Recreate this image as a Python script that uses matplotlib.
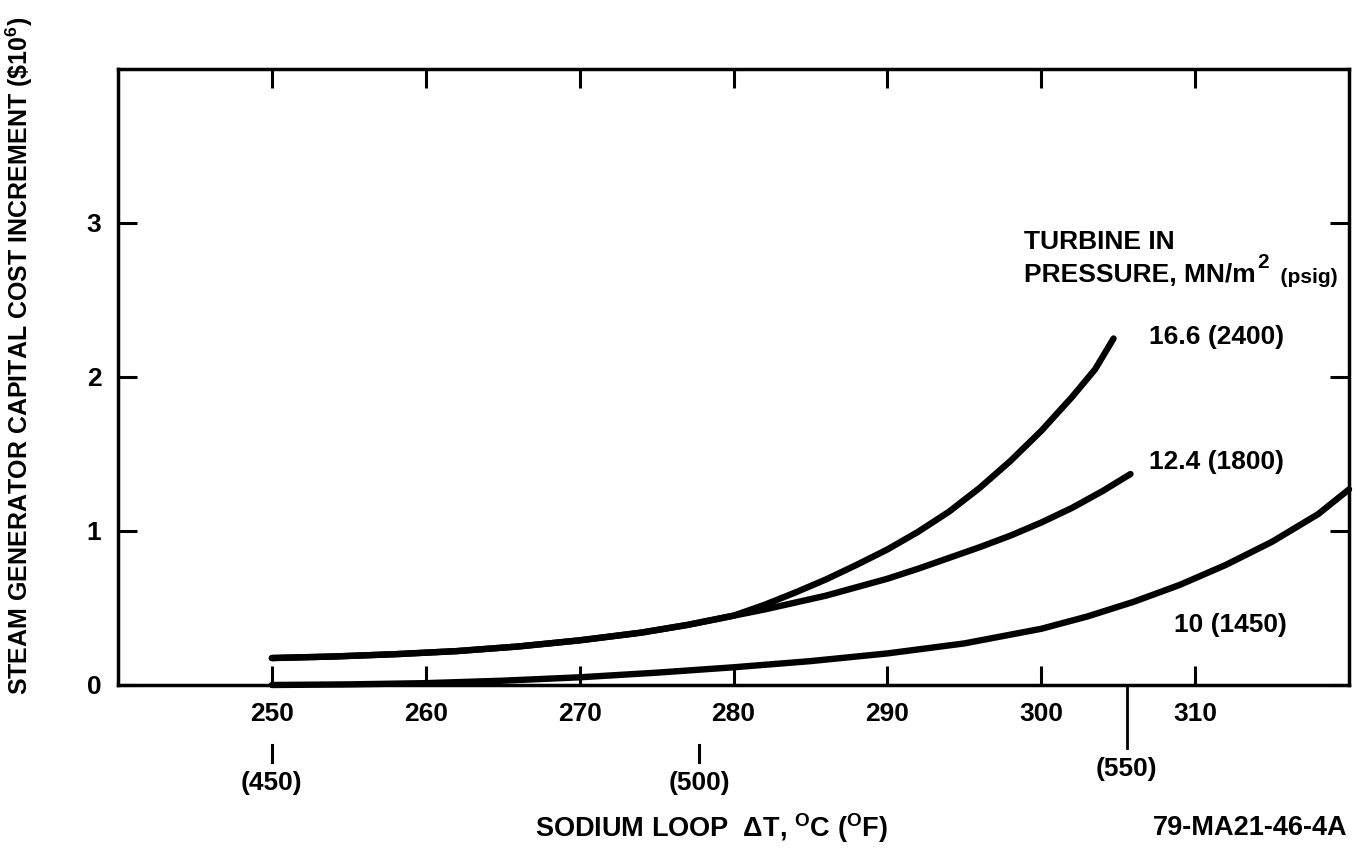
import numpy as np
import matplotlib.pyplot as plt
from matplotlib.transforms import blended_transform_factory

plt.rcParams['font.family'] = ['Liberation Sans', 'DejaVu Sans']
plt.rcParams['font.weight'] = 'bold'
plt.rcParams['mathtext.fontset'] = 'custom'
plt.rcParams['mathtext.rm'] = 'Liberation Sans:bold'
plt.rcParams['mathtext.it'] = 'Liberation Sans:bold'
plt.rcParams['mathtext.bf'] = 'Liberation Sans:bold'

# sodium loop delta T (deg C) and cost increment ($10^6)
x_166 = [250, 254, 258, 262, 266, 270, 274, 277, 280, 282, 284, 286, 288, 290, 292,
         294, 296, 298, 300, 302, 303.5, 304.7]
y_166 = [0.175, 0.185, 0.20, 0.22, 0.25, 0.29, 0.34, 0.39, 0.45, 0.52, 0.60, 0.685,
         0.78, 0.88, 0.995, 1.125, 1.28, 1.455, 1.65, 1.87, 2.05, 2.25]

x_124 = [250, 254, 258, 262, 266, 270, 274, 277, 280, 282, 284, 286, 288, 290, 292,
         294, 296, 298, 300, 302, 304, 305.8]
y_124 = [0.175, 0.185, 0.20, 0.22, 0.25, 0.29, 0.34, 0.39, 0.45, 0.49, 0.535, 0.58,
         0.635, 0.69, 0.755, 0.825, 0.895, 0.97, 1.055, 1.15, 1.26, 1.37]

x_10 = [250, 255, 260, 265, 270, 275, 280, 285, 290, 295, 300, 303, 306, 309, 312,
        315, 318, 320]
y_10 = [0.0, 0.004, 0.012, 0.028, 0.05, 0.08, 0.115, 0.155, 0.205, 0.27, 0.365, 0.445,
        0.54, 0.65, 0.78, 0.93, 1.11, 1.27]

curve_labels = ['16.6 (2400)', '12.4 (1800)', '10 (1450)']
x_ticks = [250, 260, 270, 280, 290, 300, 310]
y_ticks = [0, 1, 2, 3]
f_ticks = [450, 500, 550]

W, H = 1356, 856
fig = plt.figure(figsize=(W / 100, H / 100), dpi=100)
ax = fig.add_axes([118 / W, (H - 685) / H, (1349 - 118) / W, (685 - 69) / H])

lw = 4.6
for xs, ys in [(x_166, y_166), (x_124, y_124), (x_10, y_10)]:
    ax.plot(xs, ys, color='black', lw=lw, solid_capstyle='round',
            solid_joinstyle='round', clip_on=False)

ax.set_xlim(240, 320)
ax.set_ylim(0, 4)
ax.set_xticks(x_ticks)
ax.set_yticks(y_ticks)
ax.tick_params(direction='in', length=14, width=2.2, top=True, right=True,
               labelsize=19, pad=12)
ax.tick_params(axis='y', pad=12)
for s in ax.spines.values():
    s.set_linewidth(2.5)

# curve labels
ax.text(307.0, 2.26, curve_labels[0], fontsize=19, va='center', ha='left')
ax.text(307.0, 1.45, curve_labels[1], fontsize=19, va='center', ha='left')
ax.text(308.6, 0.39, curve_labels[2], fontsize=19, va='center', ha='left')

# legend title: TURBINE IN PRESSURE, MN/m^2 (psig)
ax.text(298.9, 2.83, 'TURBINE IN', fontsize=19, va='baseline', ha='left')
t = ax.text(298.9, 2.62, 'PRESSURE, MN/m', fontsize=19, va='baseline', ha='left')
sup = ax.annotate('2', xy=(1, 1), xycoords=t, xytext=(1, 7), textcoords='offset points',
                  fontsize=15, va='top', ha='left')
ax.annotate('  (psig)', xy=(1, 0), xycoords=(sup, t), fontsize=15, va='bottom', ha='left')

# Fahrenheit scale below the axis
px = 1.0 / (685 - 69)
tr = blended_transform_factory(ax.transData, ax.transAxes)
for f in f_ticks:
    c = f / 1.8
    lab = '(%d)' % f
    if f == 550:
        ax.plot([c, c], [0, -(748 - 685) * px], color='black', lw=2.0, transform=tr,
                clip_on=False)
        ax.text(c, -(769 - 685) * px, lab, fontsize=19, ha='center', va='center', transform=tr)
    else:
        ax.plot([c, c], [-(745 - 685) * px, -(762 - 685) * px], color='black', lw=2.2,
                transform=tr, clip_on=False)
        ax.text(c, -(783 - 685) * px, lab, fontsize=19, ha='center', va='center', transform=tr)

fig.text(535 / W, 1 - 828 / H, r'SODIUM LOOP  $\Delta$T, $^{\rm O}$C ($^{\rm O}$F)',
         fontsize=19.5, ha='left', va='center')
fig.text(1347 / W, 1 - 828 / H, '79-MA21-46-4A', fontsize=19.5, ha='right', va='center')
fig.text(19 / W, 1 - 356 / H, r'STEAM GENERATOR CAPITAL COST INCREMENT (\$10$^{6}$)',
         fontsize=18, ha='center', va='center', rotation=90)

fig.savefig('out.png', dpi=100)
